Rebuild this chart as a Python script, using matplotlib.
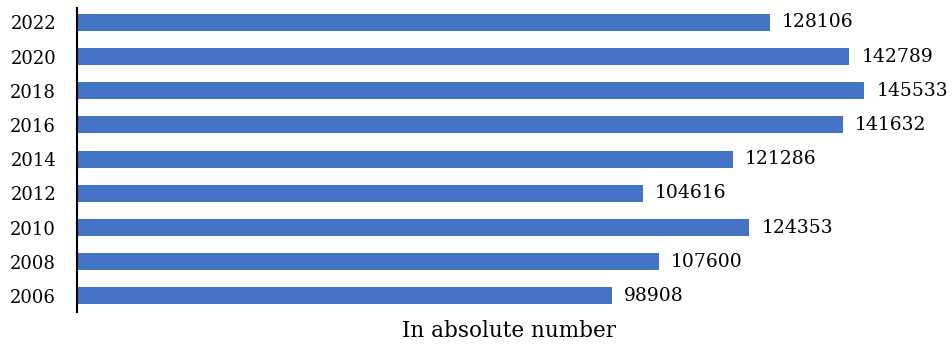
import matplotlib.pyplot as plt

years = ['2006', '2008', '2010', '2012', '2014', '2016', '2018', '2020', '2022']
values = [98908, 107600, 124353, 104616, 121286, 141632, 145533, 142789, 128106]

plt.rcParams['font.family'] = ['DejaVu Serif']

fig = plt.figure(figsize=(9.52, 3.47), dpi=100)
ax = fig.add_axes([77 / 952, 1 - 312 / 347, 865 / 952, 304 / 347])

pos = range(len(years))
ax.barh(pos, values, height=0.5, color='#4472C4')
for p, v in zip(pos, values):
    ax.annotate(str(v), (v, p), xytext=(9, 0), textcoords='offset points',
                va='center', ha='left', fontsize=13.5)

ax.set_xlim(0, 160000)
ax.set_ylim(-0.47, 8.42)
ax.set_yticks(list(pos))
ax.set_yticklabels(years, fontsize=13)
ax.tick_params(axis='y', length=0, pad=15)
ax.set_xticks([])
ax.set_xlabel('In absolute number', fontsize=15.5, labelpad=6)

for s in ['top', 'right', 'bottom']:
    ax.spines[s].set_visible(False)
ax.spines['left'].set_linewidth(1.5)

fig.savefig('out.png', dpi=100)
